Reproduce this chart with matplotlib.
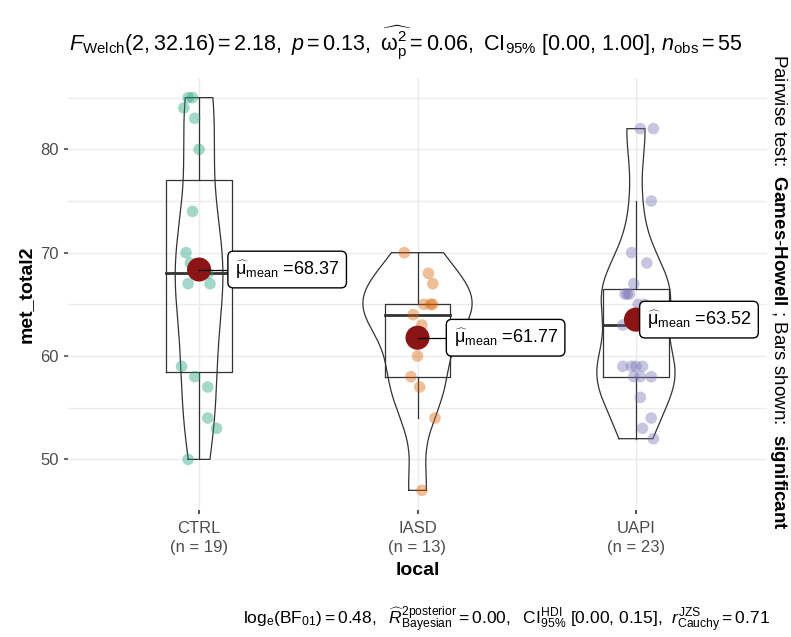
import numpy as np
import matplotlib
matplotlib.use("Agg")
import matplotlib.pyplot as plt

plt.rcParams['font.family'] = ['Liberation Sans', 'DejaVu Sans']
plt.rcParams['mathtext.fontset'] = 'custom'
plt.rcParams['mathtext.rm'] = 'Liberation Sans'
plt.rcParams['mathtext.it'] = 'Liberation Sans:italic'
plt.rcParams['mathtext.bf'] = 'Liberation Sans:bold'

# met_total2 by local
groups = ['CTRL', 'IASD', 'UAPI']
ctrl = [85, 85, 84, 83, 80, 74, 70, 69, 68, 68, 68, 67, 67, 59, 58, 57, 54, 53, 50]
iasd = [70, 68, 67, 65, 65, 65, 64, 63, 60, 58, 57, 54, 47]
uapi = [82, 82, 75, 70, 69, 67, 66, 66, 66, 65, 65, 63,
        59, 59, 59, 59, 58, 58, 58, 56, 54, 53, 52]
values = [ctrl, iasd, uapi]

# horizontal jitter of the raw points (category units)
jitter = [
    [-0.05, -0.03, -0.07, -0.02, 0.0, -0.03, -0.06, -0.04, 0.02, 0.04, -0.02,
     -0.05, 0.05, -0.08, -0.02, 0.04, 0.04, 0.08, -0.05],
    [-0.06, 0.05, 0.07, 0.07, 0.06, 0.03, -0.02, 0.02, 0.0, -0.03, 0.01, 0.08, 0.02],
    [0.02, 0.08, 0.07, -0.02, 0.05, -0.01, -0.05, -0.04, -0.03, 0.01, 0.04, -0.06,
     -0.06, -0.02, 0.0, 0.03, -0.01, 0.07, 0.02, 0.02, 0.07, 0.03, 0.08],
]
label_nudge = [0.165, 0.165, 0.05]

colors = ['#1B9E77', '#D95F02', '#7570B3']

title = (r'$F_{\mathrm{Welch}}(2, 32.16) = 2.18,$ $p = 0.13,$ '
         r'$\widehat{\mathrm{\omega}_{\mathrm{p}}^{2}} = 0.06,$ $\mathrm{CI}_{95\%}$ [0.00, 1.00], '
         r'$n_{\mathrm{obs}} = 55$')
caption = (r'$\mathrm{log}_{\mathrm{e}}(\mathrm{BF}_{01}) = 0.48,$  '
           r'$\widehat{R}^{2\mathrm{posterior}}_{\mathrm{Bayesian}} = 0.00,$  '
           r'$\mathrm{CI}_{95\%}^{\mathrm{HDI}}$ [0.00, 0.15],  '
           r'$r_{\mathrm{Cauchy}}^{\mathrm{JZS}} = 0.71$')
side = (r'Pairwise test:  $\mathbf{Games}$-$\mathbf{Howell}$ ; '
        r'Bars shown:  $\mathbf{significant}$')


def bw_nrd0(x):
    x = np.asarray(x, float)
    q1, q3 = np.percentile(x, [25, 75])
    lo = min(np.std(x, ddof=1), (q3 - q1) / 1.34)
    return 0.9 * lo * len(x) ** -0.2


def kde(x, grid):
    x = np.asarray(x, float)
    h = bw_nrd0(x)
    z = (grid[:, None] - x[None, :]) / h
    return np.exp(-0.5 * z ** 2).sum(axis=1) / (len(x) * h * np.sqrt(2 * np.pi))


fig = plt.figure(figsize=(7.91, 6.37), dpi=100)
ax = fig.add_axes([68 / 791, 1 - 510 / 637, (767 - 68) / 791, (510 - 78) / 637])

# violins (scale = "area": widths relative to the largest density overall)
grids, dens = [], []
for v in values:
    g = np.linspace(min(v), max(v), 512)
    grids.append(g)
    dens.append(kde(v, g))
dmax = max(d.max() for d in dens)

for i, v in enumerate(values):
    x0 = i + 1
    hw = 0.25 * dens[i] / dmax
    g = grids[i]
    xs = np.concatenate([x0 - hw, (x0 + hw)[::-1], [x0 - hw[0]]])
    ys = np.concatenate([g, g[::-1], [g[0]]])
    ax.plot(xs, ys, color='#333333', lw=0.9, zorder=2)

    # box plot
    arr = np.asarray(v, float)
    q1, med, q3 = np.percentile(arr, [25, 50, 75])
    iqr = q3 - q1
    lo = arr[arr >= q1 - 1.5 * iqr].min()
    hi = arr[arr <= q3 + 1.5 * iqr].max()
    bw = 0.15
    ax.plot([x0 - bw, x0 + bw, x0 + bw, x0 - bw, x0 - bw], [q1, q1, q3, q3, q1],
            color='#333333', lw=0.9, zorder=3)
    ax.plot([x0 - bw, x0 + bw], [med, med], color='#333333', lw=2.0, zorder=3)
    ax.plot([x0, x0], [q3, hi], color='#333333', lw=0.9, zorder=3)
    ax.plot([x0, x0], [lo, q1], color='#333333', lw=0.9, zorder=3)

    # raw points
    ax.scatter(x0 + np.array(jitter[i]), arr, s=70, color=colors[i], alpha=0.4,
               edgecolors='none', zorder=4)

    # mean and its label
    m = arr.mean()
    ax.scatter([x0], [m], s=300, color='#8B1414', edgecolors='none', zorder=5)
    tx = x0 + label_nudge[i]
    if label_nudge[i] > 0.1:
        ax.plot([x0, tx - 0.032], [m, m], color='black', lw=0.9, zorder=5)
    ax.text(tx, m, r'$\widehat{\mathrm{\mu}}_{\mathrm{mean}}$' + ' =%.2f' % m,
            fontsize=13, ha='left', va='center', zorder=6,
            bbox=dict(boxstyle='round,pad=0.4,rounding_size=0.3', fc='white',
                      ec='black', lw=1.0))

ax.set_xlim(0.4, 3.6)
ax.set_ylim(45.1, 86.9)
ax.set_xticks([1, 2, 3])
ax.set_xticklabels(['%s\n(n = %d)' % (g, len(v)) for g, v in zip(groups, values)],
                   fontsize=12, color='#4D4D4D', linespacing=1.35)
ax.set_yticks([50, 60, 70, 80])
ax.set_yticks([55, 65, 75, 85], minor=True)
ax.tick_params(axis='y', labelsize=12, colors='#4D4D4D', length=3, width=1.2)
ax.tick_params(axis='y', which='minor', length=0)
ax.tick_params(axis='x', length=3, width=1.2, colors='#333333', pad=5)
for t in ax.get_xticklabels():
    t.set_color('#4D4D4D')
for t in ax.get_yticklabels():
    t.set_color('#4D4D4D')

ax.grid(True, which='major', color='#EBEBEB', lw=1.0)
ax.grid(True, which='minor', axis='y', color='#EBEBEB', lw=1.0)
ax.set_axisbelow(True)
for s in ax.spines.values():
    s.set_visible(False)

ax.set_xlabel('local', fontsize=14, fontweight='bold', labelpad=5)
ax.set_ylabel('met_total2', fontsize=14, fontweight='bold', labelpad=4)

fig.text(406 / 791, 1 - 42 / 637, title, fontsize=15.5, ha='center', va='center')
fig.text(770 / 791, 1 - 620 / 637, caption, fontsize=12.5, ha='right', va='center')
fig.text(779 / 791, 1 - 292 / 637, side, fontsize=13.5, rotation=270,
         ha='center', va='center')

fig.savefig('out.png', dpi=100)
